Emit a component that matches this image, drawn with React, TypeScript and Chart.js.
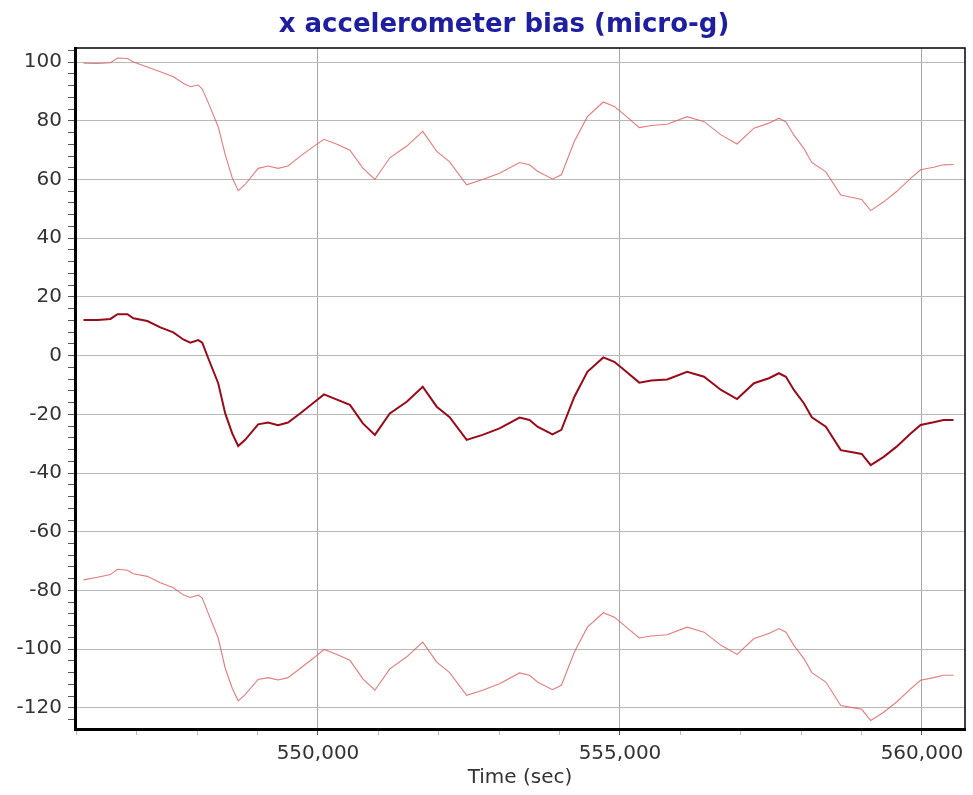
import React, { useEffect, useRef } from 'react';
import { Chart, registerables } from 'chart.js';

Chart.register(...registerables);

const TITLE = 'x accelerometer bias (micro-g)';
const X_TITLE = 'Time (sec)';

const TIME = [
  546118, 546350, 546564, 546680, 546845, 546944, 547175, 547390, 547605, 547770,
  547886, 548018, 548084, 548183, 548348, 548464, 548580, 548679, 548794, 549009,
  549174, 549339, 549504, 549703, 549917, 550099, 550314, 550529, 550743, 550942,
  551189, 551470, 551734, 551966, 552180, 552461, 552725, 553006, 553337, 553502,
  553634, 553882, 554030, 554245, 554460, 554724, 554906, 555071, 555319, 555517,
  555781, 556112, 556392, 556673, 556938, 557218, 557466, 557631, 557747, 557879,
  558044, 558176, 558408, 558655, 558870, 559002, 559151, 559366, 559580, 559812,
  559977, 560192, 560357, 560522,
];

const BIAS = [
  12.1, 12.1, 12.5, 14.1, 14.1, 12.7, 11.8, 9.6, 7.9, 5.5,
  4.4, 5.3, 4.4, -0.9, -9.4, -19.7, -26.5, -30.8, -28.7, -23.4,
  -22.8, -23.7, -22.8, -19.7, -16.2, -13.2, -15.0, -16.8, -23.1, -27.0,
  -19.7, -15.7, -10.6, -17.4, -21.0, -28.7, -27.0, -24.8, -21.1, -21.9,
  -24.2, -26.8, -25.3, -14.0, -5.5, -0.6, -2.1, -4.9, -9.2, -8.5,
  -8.1, -5.5, -7.2, -11.7, -14.8, -9.4, -7.7, -6.0, -7.2, -11.7,
  -16.2, -21.0, -24.2, -32.2, -33.0, -33.5, -37.3, -34.5, -31.0, -26.5,
  -23.6, -22.7, -21.9, -21.9,
];

const UPPER = [
  99.6, 99.5, 99.8, 101.4, 101.2, 100.0, 98.3, 96.7, 95.0, 92.8,
  91.6, 92.2, 90.8, 86.2, 78.0, 68.5, 60.6, 56.2, 58.3, 63.8,
  64.6, 63.8, 64.6, 67.9, 71.1, 73.7, 72.0, 70.0, 63.9, 60.0,
  67.4, 71.4, 76.4, 69.6, 66.0, 58.2, 60.0, 62.1, 65.8, 65.0,
  62.8, 60.2, 61.6, 73.0, 81.4, 86.4, 84.9, 82.1, 77.7, 78.4,
  78.8, 81.4, 79.7, 75.2, 72.1, 77.5, 79.2, 80.9, 79.6, 75.1,
  70.6, 65.8, 62.6, 54.7, 53.8, 53.2, 49.4, 52.4, 55.9, 60.4,
  63.3, 64.2, 65.0, 65.1,
];

const LOWER = [
  -76.4, -75.5, -74.6, -72.8, -73.1, -74.3, -75.2, -77.4, -79.1, -81.5,
  -82.4, -81.6, -82.6, -87.8, -96.2, -106.5, -113.3, -117.6, -115.5, -110.3,
  -109.7, -110.5, -109.7, -106.6, -103.2, -100.1, -101.8, -103.8, -110.1, -114.0,
  -106.7, -102.6, -97.6, -104.4, -108.0, -115.7, -114.0, -111.8, -108.1, -108.9,
  -111.2, -113.8, -112.3, -101.0, -92.5, -87.6, -89.1, -91.9, -96.2, -95.5,
  -95.1, -92.5, -94.2, -98.7, -101.8, -96.4, -94.7, -93.0, -94.2, -98.7,
  -103.2, -108.0, -111.2, -119.2, -120.0, -120.5, -124.3, -121.5, -118.0, -113.5,
  -110.6, -109.7, -108.9, -108.9,
];

const Y_MIN = -127.2;
const Y_MAX = 104.8;
const Y_MAJOR = 20;
const Y_MINOR = 4;
const X_MIN = 545977;
const X_MAX = 560712;
const X_MAJOR = 5000;
const X_MINOR = 1000;

const FONT = '"DejaVu Sans", Verdana, sans-serif';

const toPoints = (ys: number[]) => TIME.map((t, i) => ({ x: t, y: ys[i] }));

const framePlugin = {
  id: 'frame',
  afterDraw(chart: any) {
    const { ctx, chartArea: a } = chart;
    ctx.save();
    ctx.strokeStyle = '#000';
    ctx.lineWidth = 1.5;
    ctx.strokeRect(a.left, a.top, a.right - a.left, a.bottom - a.top);
    // chart title, slightly right of the canvas centre as in the source
    ctx.fillStyle = '#1e1ea0';
    ctx.font = 'bold 26px ' + FONT;
    ctx.textAlign = 'center';
    ctx.textBaseline = 'middle';
    ctx.fillText(TITLE, (a.left + a.right) / 2 - 16, a.top / 2 + 1);
    ctx.restore();
  },
};

export default function App() {
  const ref = useRef<HTMLCanvasElement | null>(null);

  useEffect(() => {
    if (!ref.current) return;
    const chart = new Chart(ref.current, {
      type: 'line',
      data: {
        datasets: [
          {
            label: 'upper',
            data: toPoints(UPPER),
            borderColor: 'rgba(222, 90, 90, 0.8)',
            borderWidth: 1.1,
            pointRadius: 0,
            tension: 0,
          },
          {
            label: 'lower',
            data: toPoints(LOWER),
            borderColor: 'rgba(222, 90, 90, 0.8)',
            borderWidth: 1.1,
            pointRadius: 0,
            tension: 0,
          },
          {
            label: 'bias',
            data: toPoints(BIAS),
            borderColor: '#990a1a',
            borderWidth: 2,
            pointRadius: 0,
            tension: 0,
          },
        ],
      },
      options: {
        responsive: false,
        animation: false,
        layout: { padding: { left: 8, right: 8, top: 48, bottom: 0 } },
        plugins: {
          legend: { display: false },
          tooltip: { enabled: false },
          title: { display: false },
        },
        scales: {
          x: {
            type: 'linear',
            min: X_MIN,
            max: X_MAX,
            afterBuildTicks: (scale: any) => {
              const ticks = [];
              for (let v = Math.ceil(X_MIN / X_MINOR) * X_MINOR; v <= X_MAX; v += X_MINOR) ticks.push({ value: v });
              scale.ticks = ticks;
            },
            afterFit: (scale: any) => {
              scale.height = 66;
            },
            ticks: {
              autoSkip: false,
              maxRotation: 0,
              padding: 7,
              color: '#333',
              font: { family: FONT, size: 20 },
              callback: (v: any) => (v % X_MAJOR === 0 ? Number(v).toLocaleString('en-US') : ''),
            },
            grid: {
              color: (c: any) => (c.tick && c.tick.value % X_MAJOR === 0 ? '#a8a8a8' : 'rgba(0,0,0,0)'),
              tickColor: (c: any) => (c.tick && c.tick.value % X_MAJOR === 0 ? '#555' : '#bbb'),
              tickLength: 6,
              lineWidth: 1,
            },
            border: { display: true, color: '#000', width: 3 },
            title: {
              display: true,
              text: X_TITLE,
              color: '#333',
              font: { family: FONT, size: 20 },
              padding: { top: 0, bottom: 5 },
            },
          },
          y: {
            type: 'linear',
            min: Y_MIN,
            max: Y_MAX,
            afterBuildTicks: (scale: any) => {
              const ticks = [];
              for (let v = Math.ceil(Y_MIN / Y_MINOR) * Y_MINOR; v <= Y_MAX; v += Y_MINOR) ticks.push({ value: v });
              scale.ticks = ticks;
            },
            afterFit: (scale: any) => {
              scale.width = 67;
            },
            ticks: {
              autoSkip: false,
              padding: 6,
              color: '#333',
              font: { family: FONT, size: 20 },
              callback: (v: any) => (v % Y_MAJOR === 0 ? String(v) : ''),
            },
            grid: {
              color: (c: any) => (c.tick && c.tick.value % Y_MAJOR === 0 ? '#b8b8b8' : 'rgba(0,0,0,0)'),
              tickColor: '#555',
              tickLength: 7,
              lineWidth: 1,
            },
            border: { display: true, color: '#000', width: 3 },
          },
        },
      },
      plugins: [framePlugin],
    } as any);
    return () => chart.destroy();
  }, []);

  return (
    <div style={{ position: 'absolute', left: 0, top: 0, width: 973, height: 795, background: '#fff' }}>
      <canvas ref={ref} width={973} height={795} style={{ width: 973, height: 795, display: 'block' }} />
    </div>
  );
}
